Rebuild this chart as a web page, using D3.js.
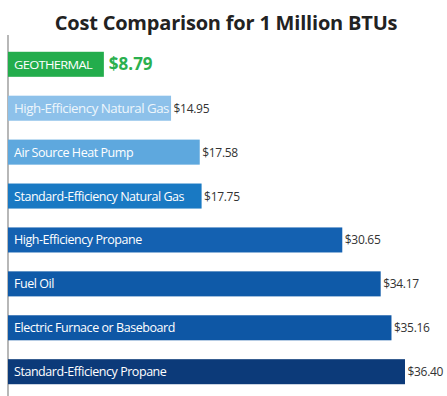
<!DOCTYPE html>
<html><head><meta charset="utf-8">
<script src="https://cdn.jsdelivr.net/npm/d3@7"></script>
<style>body{margin:0;background:#fff;} svg{display:block;}</style>
</head><body>
<svg id="chart" width="447" height="396"></svg>
<script>
const categories = ["GEOTHERMAL","High-Efficiency Natural Gas","Air Source Heat Pump","Standard-Efficiency Natural Gas","High-Efficiency Propane","Fuel Oil","Electric Furnace or Baseboard","Standard-Efficiency Propane"];
const values = [8.79,14.95,17.58,17.75,30.65,34.17,35.16,36.40];
const valueLabels = ["$8.79","$14.95","$17.58","$17.75","$30.65","$34.17","$35.16","$36.40"];
const colors = ["#23ad4c","#8dc1ea","#5ea8de","#1979c3","#1461b1","#0f5aa8","#0e57a5","#0c3a79"];

const svg = d3.select("#chart");
const left = 8;
const x = d3.scaleLinear().domain([0, 36.40]).range([left, 405]);
const y = d3.scaleBand().domain(categories).range([43, 393]).paddingInner(0.43).paddingOuter(0.2);

svg.append("text").attr("x", 226).attr("y", 30).attr("text-anchor","middle")
  .attr("font-family","Open Sans, sans-serif").attr("font-weight","bold").attr("font-size",20)
  .attr("letter-spacing",-0.2)
  .attr("fill","#222").text("Cost Comparison for 1 Million BTUs");

svg.append("line").attr("x1",left).attr("x2",left).attr("y1",35).attr("y2",396)
  .attr("stroke","#888").attr("stroke-width",1.2);

const g = svg.selectAll("g.bar").data(categories).enter().append("g");
g.append("rect").attr("x", left).attr("y", d => y(d)).attr("height", y.bandwidth())
  .attr("width", (d,i) => x(values[i]) - left).attr("fill", (d,i) => colors[i]);
const lbl = g.append("text").attr("x", 14).attr("y", d => y(d) + y.bandwidth()/2 + 4.5)
  .attr("font-family","Open Sans, sans-serif").attr("font-size", (d,i)=> i===0 ? 11.5 : 12.5)
  .attr("letter-spacing", (d,i)=> i===0 ? -0.6 : -0.45)
  .attr("fill", (d,i)=> i===1 ? "#eef6fc" : "#fff").text(d => d);
lbl.filter((d,i)=> i===0).attr("textLength",78).attr("lengthAdjust","spacingAndGlyphs");
lbl.filter((d,i)=> i===1).attr("textLength",155).attr("lengthAdjust","spacingAndGlyphs");
g.append("text").attr("x", (d,i) => x(values[i]) + (i===0 ? 5 : 2.5)).attr("y", (d,i) => y(d) + y.bandwidth()/2 + (i===0 ? 6 : 4.5))
  .attr("font-family","Open Sans, sans-serif")
  .attr("font-size", (d,i)=> i===0 ? 17 : 12)
  .attr("font-weight", (d,i)=> i===0 ? "bold" : "normal")
  .attr("letter-spacing", (d,i)=> i===0 ? 0 : -0.3)
  .attr("fill", (d,i)=> i===0 ? "#2bb04f" : "#333").text((d,i) => valueLabels[i]);
</script>
</body></html>
